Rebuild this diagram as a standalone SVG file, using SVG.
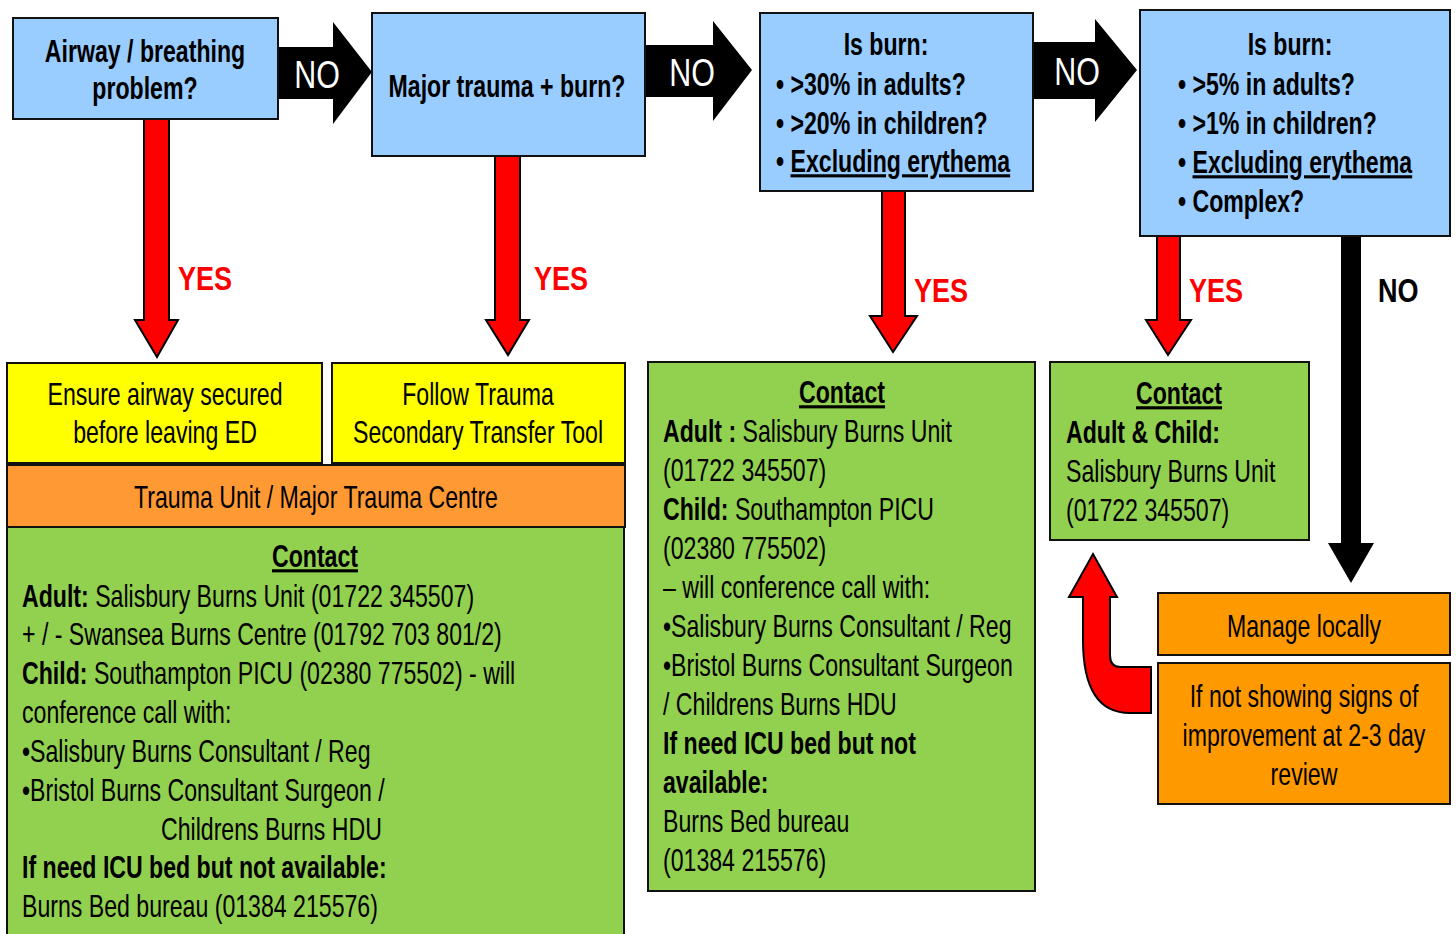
<svg xmlns="http://www.w3.org/2000/svg" width="1456" height="934" viewBox="0 0 1456 934">
<style>
text{font-family:"Liberation Sans",Arial,sans-serif;font-size:31px;fill:#000}
.b{font-weight:bold}
.c{text-anchor:middle}
.u{text-decoration:underline}
.q{fill:#99CCFF;stroke:#111;stroke-width:2}
.y{fill:#FFFF00;stroke:#111;stroke-width:2}
.o{fill:#FF9933;stroke:#111;stroke-width:2}
.o2{fill:#FF9900;stroke:#111;stroke-width:2}
.g{fill:#92D050;stroke:#111;stroke-width:2}
.ra{fill:#FF0000;stroke:#000;stroke-width:2}
.ba{fill:#000}
.no{fill:#fff;font-size:39px}
.yes{fill:#FF0000;font-weight:bold;font-size:33px}
.nob{font-weight:bold;font-size:33px}
</style>
<rect width="1456" height="934" fill="#fff"/>
<g id="connectors">
<path class="ba" d="M276 47H333V22L372 72L333 124V99H276Z"/>
<text class="no c" transform="translate(317 88) scale(.78 1)">NO</text>
<path class="ba" d="M645 45H713V21L752 70L713 121V97H645Z"/>
<text class="no c" transform="translate(692 86) scale(.78 1)">NO</text>
<path class="ba" d="M1033 42H1095V19L1137 70L1095 122V99H1033Z"/>
<text class="no c" transform="translate(1077 85) scale(.78 1)">NO</text>
<path class="ra" d="M144 119H169V320H178L157 357L135 320H144Z"/>
<text class="yes" transform="translate(178 290) scale(.82 1)">YES</text>
<path class="ra" d="M495 156H520V320H529L508 355L486 320H495Z"/>
<text class="yes" transform="translate(534 290) scale(.82 1)">YES</text>
<path class="ra" d="M882 191H905V316H917L893 352L870 316H882Z"/>
<text class="yes" transform="translate(914 302) scale(.82 1)">YES</text>
<path class="ra" d="M1157 236H1180V320H1191L1168 355L1146 320H1157Z"/>
<text class="yes" transform="translate(1189 302) scale(.82 1)">YES</text>
<path class="ba" d="M1341 234H1361V543H1374L1351 583L1328 543H1341Z"/>
<text class="nob" transform="translate(1378 302) scale(.82 1)">NO</text>
<path class="ra" d="M1151 667H1120Q1110 667 1110 655V597H1117L1093 554L1069 597H1083V640Q1083 713 1130 713H1151Z"/>
</g>
<g id="airway">
<rect class="q" x="13" y="18" width="265" height="101"/>
<text class="b c" transform="translate(145 62) scale(.746 1)">Airway / breathing</text>
<text class="b c" transform="translate(145 99) scale(.746 1)">problem?</text>
</g>
<g id="major">
<rect class="q" x="372" y="13" width="273" height="143"/>
<text class="b c" transform="translate(507 97) scale(.746 1)">Major trauma + burn?</text>
</g>
<g id="burn30">
<rect class="q" x="760" y="13" width="273" height="178"/>
<text class="b c" transform="translate(886 55) scale(.746 1)">Is burn:</text>
<text class="b" transform="translate(776 95) scale(.746 1)">• &gt;30% in adults?</text>
<text class="b" transform="translate(776 134) scale(.746 1)">• &gt;20% in children?</text>
<text class="b" transform="translate(776 172) scale(.746 1)">• <tspan class="u">Excluding erythema</tspan></text>
</g>
<g id="burn5">
<rect class="q" x="1140" y="10" width="310" height="226"/>
<text class="b c" transform="translate(1290 55) scale(.746 1)">Is burn:</text>
<text class="b" transform="translate(1178 95) scale(.746 1)">• &gt;5% in adults?</text>
<text class="b" transform="translate(1178 134) scale(.746 1)">• &gt;1% in children?</text>
<text class="b" transform="translate(1178 173) scale(.746 1)">• <tspan class="u">Excluding erythema</tspan></text>
<text class="b" transform="translate(1178 212) scale(.746 1)">• Complex?</text>
</g>
<g id="ensure">
<rect class="y" x="7" y="363" width="315" height="100"/>
<text class="c" transform="translate(165 405) scale(.746 1)">Ensure airway secured</text>
<text class="c" transform="translate(165 443) scale(.746 1)">before leaving ED</text>
</g>
<g id="follow">
<rect class="y" x="332" y="363" width="293" height="100"/>
<text class="c" transform="translate(478 405) scale(.746 1)">Follow Trauma</text>
<text class="c" transform="translate(478 443) scale(.746 1)">Secondary Transfer Tool</text>
</g>
<g id="trauma-unit">
<rect class="o" x="7" y="465" width="618" height="62"/>
<text class="c" transform="translate(316 508) scale(.746 1)">Trauma Unit / Major Trauma Centre</text>
</g>
<g id="contact-trauma">
<rect class="g" x="7" y="527" width="617" height="420"/>
<text class="b c u" transform="translate(315 567) scale(.746 1)">Contact</text>
<text transform="translate(22 607) scale(.746 1)"><tspan class="b">Adult:</tspan> Salisbury Burns Unit (01722 345507)</text>
<text transform="translate(22 645) scale(.746 1)">+ / - Swansea Burns Centre (01792 703 801/2)</text>
<text transform="translate(22 684) scale(.746 1)"><tspan class="b">Child:</tspan> Southampton PICU (02380 775502) - will</text>
<text transform="translate(22 723) scale(.746 1)">conference call with:</text>
<text transform="translate(22 762) scale(.746 1)">•Salisbury Burns Consultant / Reg</text>
<text transform="translate(22 801) scale(.746 1)">•Bristol Burns Consultant Surgeon /</text>
<text transform="translate(161 840) scale(.746 1)">Childrens Burns HDU</text>
<text class="b" transform="translate(22 878) scale(.746 1)">If need ICU bed but not available:</text>
<text transform="translate(22 917) scale(.746 1)">Burns Bed bureau (01384 215576)</text>
</g>
<g id="contact-large">
<rect class="g" x="648" y="362" width="387" height="529"/>
<text class="b c u" transform="translate(842 403) scale(.746 1)">Contact</text>
<text transform="translate(663 442) scale(.746 1)"><tspan class="b">Adult :</tspan> Salisbury Burns Unit</text>
<text transform="translate(663 481) scale(.746 1)">(01722 345507)</text>
<text transform="translate(663 520) scale(.746 1)"><tspan class="b">Child:</tspan> Southampton PICU</text>
<text transform="translate(663 559) scale(.746 1)">(02380 775502)</text>
<text transform="translate(663 598) scale(.746 1)">– will conference call with:</text>
<text transform="translate(663 637) scale(.746 1)">•Salisbury Burns Consultant / Reg</text>
<text transform="translate(663 676) scale(.746 1)">•Bristol Burns Consultant Surgeon</text>
<text transform="translate(663 715) scale(.746 1)">/ Childrens Burns HDU</text>
<text class="b" transform="translate(663 754) scale(.746 1)">If need ICU bed but not</text>
<text class="b" transform="translate(663 793) scale(.746 1)">available:</text>
<text transform="translate(663 832) scale(.746 1)">Burns Bed bureau</text>
<text transform="translate(663 871) scale(.746 1)">(01384 215576)</text>
</g>
<g id="contact-small">
<rect class="g" x="1050" y="362" width="259" height="178"/>
<text class="b c u" transform="translate(1179 404) scale(.746 1)">Contact</text>
<text class="b" transform="translate(1066 443) scale(.746 1)">Adult &amp; Child:</text>
<text transform="translate(1066 482) scale(.746 1)">Salisbury Burns Unit</text>
<text transform="translate(1066 521) scale(.746 1)">(01722 345507)</text>
</g>
<g id="manage">
<rect class="o2" x="1158" y="593" width="292" height="62"/>
<text class="c" transform="translate(1304 637) scale(.746 1)">Manage locally</text>
</g>
<g id="review">
<rect class="o2" x="1158" y="663" width="292" height="141"/>
<text class="c" transform="translate(1304 707) scale(.746 1)">If not showing signs of</text>
<text class="c" transform="translate(1304 746) scale(.746 1)">improvement at 2-3 day</text>
<text class="c" transform="translate(1304 785) scale(.746 1)">review</text>
</g>
</svg>
